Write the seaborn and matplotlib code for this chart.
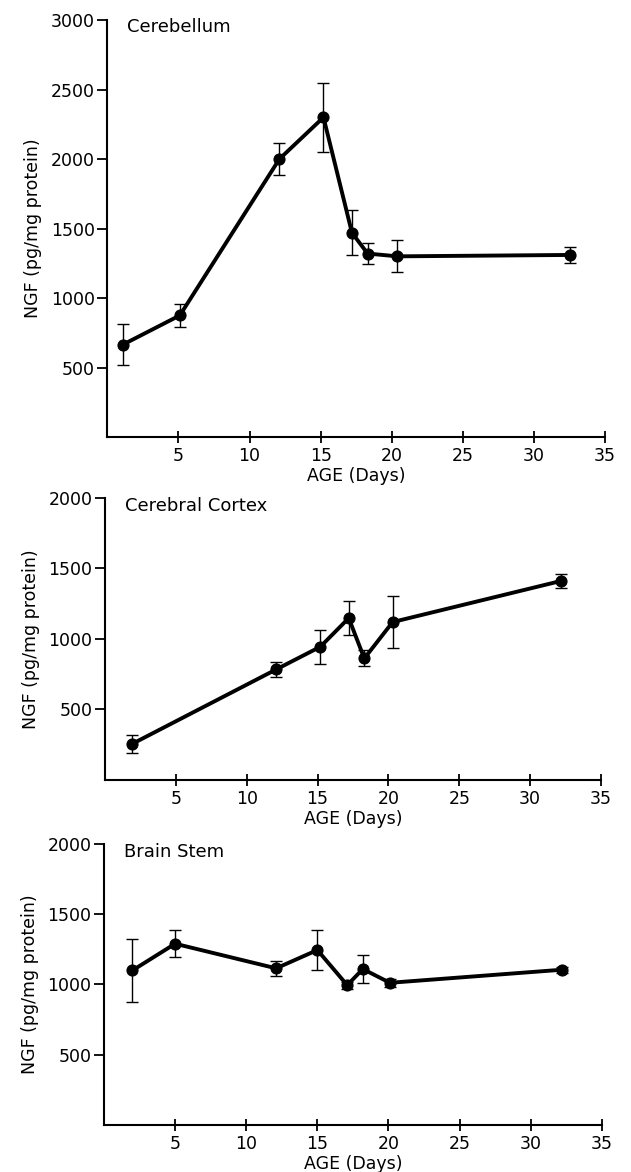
import matplotlib
matplotlib.use("Agg")
import matplotlib.pyplot as plt
import seaborn as sns
import pandas as pd

# Cerebellum
cb_age = [1.1, 5.1, 12.1, 15.2, 17.2, 18.3, 20.4, 32.5]
cb_ngf = [665, 875, 2000, 2300, 1470, 1320, 1300, 1310]
cb_err = [150, 80, 115, 250, 160, 75, 115, 58]

# Cerebral cortex
cc_age = [1.9, 12.1, 15.2, 17.2, 18.3, 20.3, 32.2]
cc_ngf = [255, 785, 945, 1148, 862, 1120, 1412]
cc_err = [62, 55, 120, 120, 57, 183, 50]

# Brain stem
bs_age = [2.0, 5.0, 12.1, 15.0, 17.1, 18.2, 20.1, 32.2]
bs_ngf = [1100, 1290, 1115, 1245, 995, 1110, 1012, 1105]
bs_err = [222, 95, 53, 143, 26, 97, 30, 20]

titles = ["Cerebellum", "Cerebral Cortex", "Brain Stem"]
x_ticks = [5, 10, 15, 20, 25, 30, 35]

sns.set_style("ticks")
plt.rcParams['font.family'] = ['DejaVu Sans']
plt.rcParams['text.color'] = 'black'
plt.rcParams['axes.labelcolor'] = 'black'
plt.rcParams['xtick.color'] = 'black'
plt.rcParams['ytick.color'] = 'black'

fig = plt.figure(figsize=(6.31, 11.72), dpi=100)
rects = [
    [0.170, 0.6271, 0.789, 0.3558],
    [0.1664, 0.3345, 0.786, 0.2406],
    [0.1648, 0.0401, 0.789, 0.2398],
]
datasets = [(cb_age, cb_ngf, cb_err), (cc_age, cc_ngf, cc_err), (bs_age, bs_ngf, bs_err)]
ymaxes = [3000, 2000, 2000]
yticks_list = [[500, 1000, 1500, 2000, 2500, 3000], [500, 1000, 1500, 2000], [500, 1000, 1500, 2000]]

for rect, (age, ngf, err), title, ymax, yt in zip(rects, datasets, titles, ymaxes, yticks_list):
    ax = fig.add_axes(rect)
    df = pd.DataFrame({"age": age, "ngf": ngf, "err": err})
    ax.errorbar(df["age"], df["ngf"], yerr=df["err"], fmt="none", ecolor="black",
                elinewidth=1.0, capsize=4, capthick=1.0, zorder=2)
    sns.lineplot(data=df, x="age", y="ngf", ax=ax, color="black", linewidth=2.8,
                 marker="o", markersize=8, markeredgecolor="black", zorder=3)
    ax.set_xlim(0, 35)
    ax.set_ylim(0, ymax)
    ax.set_xticks(x_ticks)
    ax.set_yticks(yt)
    ax.tick_params(axis="x", direction="inout", length=9, width=1.3, labelsize=12.5, pad=3)
    ax.tick_params(axis="y", direction="out", length=7, width=1.3, labelsize=12.5, pad=2)
    for s in ["top", "right"]:
        ax.spines[s].set_visible(False)
    for s in ["left", "bottom"]:
        ax.spines[s].set_linewidth(1.5)
        ax.spines[s].set_color("black")
    ax.set_xlabel("AGE (Days)", fontsize=12.5, labelpad=1)
    ax.set_ylabel("NGF (pg/mg protein)", fontsize=12.5, labelpad=6)
    ax.text(0.04, 1.005, title, transform=ax.transAxes, fontsize=13, va="top", ha="left")

fig.savefig("out.png", dpi=100)
